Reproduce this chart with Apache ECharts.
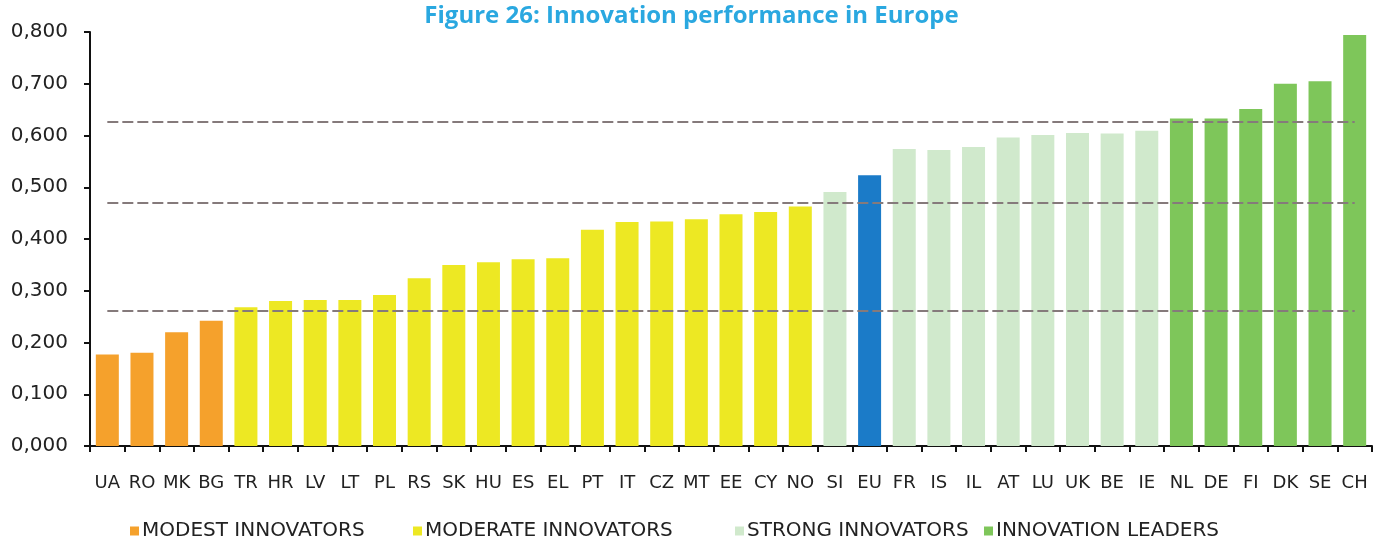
<!DOCTYPE html>
<html lang="en">
<head>
    <meta charset="UTF-8">
    <title>Innovation performance in Europe</title>
    <script src="https://cdn.jsdelivr.net/npm/echarts/dist/echarts.min.js"></script>
    <style>
        html, body { margin: 0; padding: 0; background: #fff; }
    </style>
</head>
<body>
<div id="main" style="width: 1383px;height:540px;"></div>
<script type="text/javascript">
    // data
    var countries = ['UA', 'RO', 'MK', 'BG', 'TR', 'HR', 'LV', 'LT', 'PL', 'RS', 'SK', 'HU', 'ES', 'EL', 'PT', 'IT', 'CZ', 'MT', 'EE', 'CY', 'NO',
        'SI', 'EU', 'FR', 'IS', 'IL', 'AT', 'LU', 'UK', 'BE', 'IE', 'NL', 'DE', 'FI', 'DK', 'SE', 'CH'];
    var scores = [0.177, 0.180, 0.220, 0.242, 0.268, 0.280, 0.282, 0.282, 0.292, 0.324, 0.350, 0.355, 0.361, 0.363, 0.418, 0.433, 0.434, 0.438, 0.448, 0.452, 0.463,
        0.491, 0.523, 0.574, 0.572, 0.578, 0.596, 0.601, 0.605, 0.604, 0.609, 0.633, 0.633, 0.651, 0.700, 0.705, 0.794];
    // 0 modest, 1 moderate, 2 strong, 3 leaders, 4 EU average
    var groups = [0, 0, 0, 0, 1, 1, 1, 1, 1, 1, 1, 1, 1, 1, 1, 1, 1, 1, 1, 1, 1,
        2, 4, 2, 2, 2, 2, 2, 2, 2, 2, 3, 3, 3, 3, 3, 3];
    var groupNames = ['MODEST INNOVATORS', 'MODERATE INNOVATORS', 'STRONG INNOVATORS', 'INNOVATION LEADERS', 'EU'];
    var groupColors = ['#f5a12c', '#ede823', '#d0e9cc', '#7ec65a', '#1b7bc8'];
    var thresholds = [0.261, 0.471, 0.627];
    var yTicks = [0, 0.1, 0.2, 0.3, 0.4, 0.5, 0.6, 0.7, 0.8];

    var chart = echarts.init(document.getElementById('main'));

    var series = groupNames.map(function (name, g) {
        return {
            name: name,
            type: 'bar',
            stack: 'all',
            barWidth: 23,
            itemStyle: { color: groupColors[g] },
            data: scores.map(function (v, i) { return groups[i] === g ? v : '-'; })
        };
    });

    // dashed group boundaries, from first to last category
    series.push({
        name: 'thresholds',
        type: 'line',
        data: [],
        markLine: {
            silent: true,
            symbol: 'none',
            label: { show: false },
            lineStyle: { color: '#857a7b', width: 2, type: [11, 4] },
            data: thresholds.map(function (t) {
                return [{ coord: [countries[0], t] }, { coord: [countries[countries.length - 1], t] }];
            })
        }
    });

    var legendLeft = [125, 408, 730, 979];
    var legends = legendLeft.map(function (x, g) {
        return {
            data: [{ name: groupNames[g], icon: 'rect' }],
            left: x,
            top: 516,
            itemWidth: 9,
            itemHeight: 9,
            itemGap: 0,
            textStyle: { fontFamily: 'DejaVu Sans', fontSize: 20, color: '#222', padding: [0, 0, 0, -2] },
            selectedMode: false
        };
    });

    chart.setOption({
        animation: false,
        title: {
            text: 'Figure 26: Innovation performance in Europe',
            left: 'center',
            top: -1,
            textStyle: { color: '#2aa8e0', fontSize: 24, fontWeight: 'bold', fontFamily: 'Open Sans' }
        },
        legend: legends,
        grid: { left: 90, right: 11, top: 32, bottom: 94 },
        xAxis: {
            type: 'category',
            data: countries,
            axisLine: { lineStyle: { color: '#111', width: 2 } },
            axisTick: { show: true, length: 6, lineStyle: { color: '#111', width: 2 } },
            axisLabel: { margin: 28, fontFamily: 'DejaVu Sans', fontSize: 18, color: '#222', interval: 0 }
        },
        yAxis: {
            type: 'value',
            min: yTicks[0],
            max: yTicks[yTicks.length - 1],
            interval: 0.1,
            splitLine: { show: false },
            axisLine: { show: true, lineStyle: { color: '#111', width: 2 } },
            axisTick: { show: true, length: 6, lineStyle: { color: '#111', width: 2 } },
            axisLabel: {
                margin: 22,
                fontFamily: 'DejaVu Sans',
                fontSize: 20,
                color: '#222',
                formatter: function (v) { return v.toFixed(3).replace('.', ','); }
            }
        },
        series: series
    });
</script>
</body>
</html>
